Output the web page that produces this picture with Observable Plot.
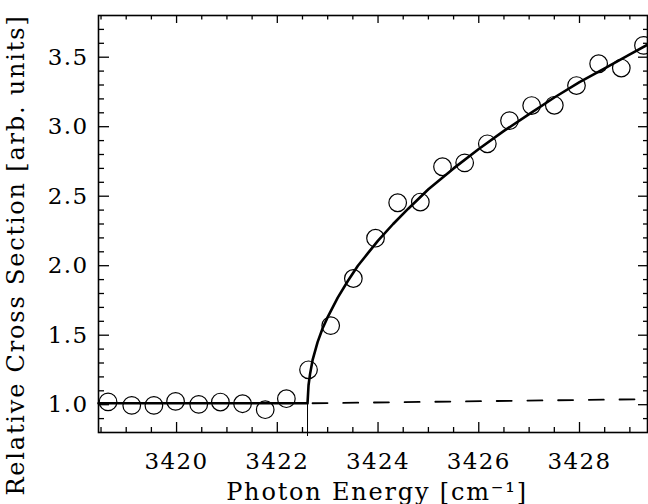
<!DOCTYPE html>
<html><head><meta charset="utf-8">
<script src="https://cdn.jsdelivr.net/npm/d3@7"></script>
<script src="https://cdn.jsdelivr.net/npm/@observablehq/plot@0.6"></script>
<style>body{margin:0;background:#fff}</style>
</head><body><div id="chart"></div>
<script>
// Measured data points (open circles)
const energy = [3418.64, 3419.11, 3419.55, 3419.98, 3420.44, 3420.87, 3421.31, 3421.76, 3422.18,
  3422.62, 3423.06, 3423.51, 3423.95, 3424.39, 3424.84, 3425.28, 3425.72, 3426.17, 3426.61,
  3427.05, 3427.50, 3427.94, 3428.38, 3428.83, 3429.27];
const crossSection = [1.02, 0.995, 0.995, 1.024, 1.002, 1.019, 1.007, 0.964, 1.043,
  1.251, 1.569, 1.908, 2.198, 2.453, 2.458, 2.712, 2.740, 2.877, 3.044,
  3.152, 3.154, 3.296, 3.453, 3.422, 3.585];
// Fit curve (solid line)
const fitEnergy = [3418.45, 3422.60, 3422.60, 3422.62, 3422.65, 3422.70, 3422.80, 3422.90, 3423.00,
  3423.20, 3423.40, 3423.60, 3423.80, 3424.00, 3424.30, 3424.60, 3425.00, 3425.50, 3426.00,
  3426.50, 3427.00, 3427.50, 3428.00, 3428.50, 3429.00, 3429.35];
const fitValue = [1.01, 1.01, 1.01, 1.14, 1.22, 1.32, 1.45, 1.55, 1.63,
  1.77, 1.89, 2.00, 2.09, 2.18, 2.30, 2.41, 2.55, 2.70, 2.84,
  2.97, 3.09, 3.21, 3.32, 3.42, 3.52, 3.59];
// Background (dashed line) and threshold
const baselineEnergy = [3422.60, 3429.35];
const baselineValue = [1.01, 1.04];
const thresholdEnergy = [3422.60];
// Ticks
const xMajorTicks = [3420, 3422, 3424, 3426, 3428];
const xMinorTicks = [3418.5, 3419, 3419.5, 3420.5, 3421, 3421.5, 3422.5, 3423, 3423.5, 3424.5, 3425, 3425.5,
  3426.5, 3427, 3427.5, 3428.5, 3429];
const yMajorTicks = [1.0, 1.5, 2.0, 2.5, 3.0, 3.5];
const yMinorTicks = [0.9, 1.1, 1.2, 1.3, 1.4, 1.6, 1.7, 1.8, 1.9, 2.1, 2.2, 2.3, 2.4, 2.6, 2.7, 2.8, 2.9,
  3.1, 3.2, 3.3, 3.4, 3.6, 3.7];
const xLabel = "Photon Energy [cm\u207B\u00B9]";
const yLabel = "Relative Cross Section [arb. units]";

const points = energy.map((e, i) => ({x: e, y: crossSection[i]}));
const fit = fitEnergy.map((e, i) => ({x: e, y: fitValue[i]}));
const base = baselineEnergy.map((e, i) => ({x: e, y: baselineValue[i]}));

const W = 648, H = 504, mL = 98, mR = 1, mT = 15, mB = 72;
const ph = H - mT - mB, pw = W - mL - mR;
const font = "'DejaVu Serif', 'Liberation Serif', serif";
const fsTick = 23, fsTitle = 24;

const chart = Plot.plot({
  width: W, height: H,
  marginLeft: mL, marginRight: mR, marginTop: mT, marginBottom: mB,
  style: {fontFamily: font, background: "#fff", color: "#000", overflow: "visible"},
  x: {domain: [3418.45, 3429.35], axis: null},
  y: {domain: [0.8, 3.8], axis: null},
  marks: [
    // inward ticks, bottom & top
    Plot.tickX(xMajorTicks, {x: d => d, insetTop: ph - 10, strokeWidth: 1.3}),
    Plot.tickX(xMinorTicks, {x: d => d, insetTop: ph - 5, strokeWidth: 1.3}),
    Plot.tickX(xMajorTicks, {x: d => d, insetBottom: ph - 8, strokeWidth: 1.3}),
    Plot.tickX(xMinorTicks, {x: d => d, insetBottom: ph - 4.5, strokeWidth: 1.3}),
    // inward ticks, left & right
    Plot.tickY(yMajorTicks, {y: d => d, insetRight: pw - 11, strokeWidth: 1.3}),
    Plot.tickY(yMinorTicks, {y: d => d, insetRight: pw - 6, strokeWidth: 1.3}),
    Plot.tickY(yMajorTicks, {y: d => d, insetLeft: pw - 9, strokeWidth: 1.3}),
    Plot.tickY(yMinorTicks, {y: d => d, insetLeft: pw - 4, strokeWidth: 1.3}),
    Plot.frame({stroke: "#000", strokeWidth: 1.6}),
    // tick labels
    Plot.axisX(xMajorTicks, {anchor: "bottom", tickSize: 0, tickPadding: 20, fontSize: fsTick,
      tickFormat: d => `${d}`, label: null, fill: "#000"}),
    Plot.axisY(yMajorTicks, {anchor: "left", tickSize: 0, tickPadding: 10, fontSize: fsTick,
      tickFormat: d => d.toFixed(1), label: null, fill: "#000"}),
    // axis titles
    Plot.text([xLabel], {frameAnchor: "bottom", textAnchor: "middle", lineAnchor: "top", dy: 50, dx: 4, fontSize: fsTitle, fill: "#000"}),
    Plot.text([yLabel], {frameAnchor: "left", textAnchor: "middle", rotate: -90, lineAnchor: "middle", dx: -82, dy: 31, fontSize: fsTitle, fill: "#000"}),
    // threshold
    Plot.ruleX(thresholdEnergy, {x: d => d, y1: 1.01, y2: 0.771, stroke: "#000", strokeWidth: 1, clip: false}),
    // background
    Plot.line(base, {x: "x", y: "y", stroke: "#000", strokeWidth: 1.8, strokeDasharray: "15,15.7", strokeDashoffset: 25.7}),
    // fit
    Plot.line(fit, {x: "x", y: "y", stroke: "#000", strokeWidth: 2.6, curve: "linear"}),
    // data
    Plot.dot(points, {x: "x", y: "y", r: 8.8, stroke: "#000", strokeWidth: 1.2, fill: "none"})
  ]
});
// wider letter spacing like the reference's typeface
d3.select(chart).selectAll("text").style("letter-spacing", "1.4px");
d3.select(chart).selectAll("[aria-label=text] text").style("letter-spacing", "1.8px");
document.getElementById("chart").appendChild(chart);
</script>
</body></html>
